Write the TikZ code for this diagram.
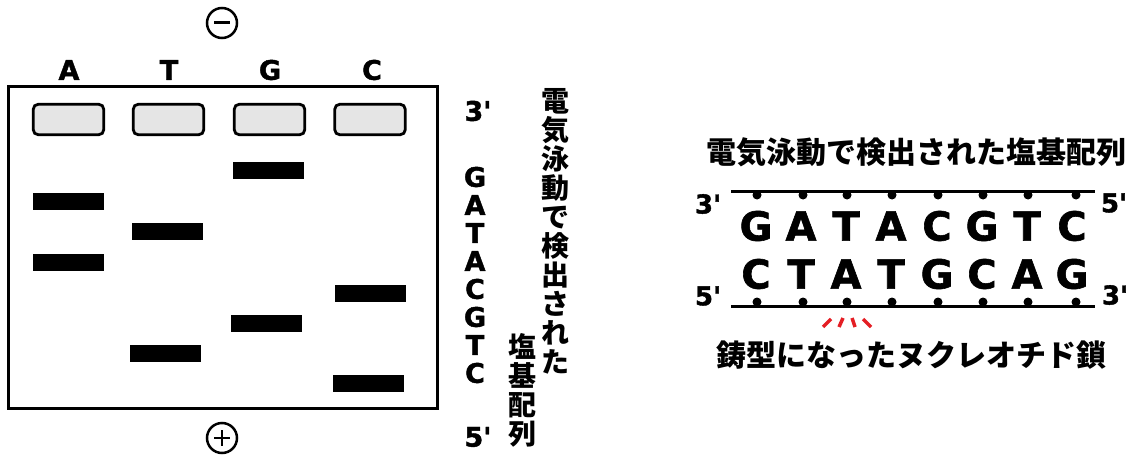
\documentclass[tikz,border=0pt]{standalone}
\usepackage{fontspec}
\usetikzlibrary{calc}
\setmainfont{DejaVu Sans}
\newfontfamily\lat{DejaVu Sans Bold}[FakeBold=1.5]
\newfontfamily\jp{Noto Sans CJK JP}
\definecolor{mred}{RGB}{228,30,36}
\begin{document}
\begin{tikzpicture}[x=1pt,y=-1pt,
  lab/.style={font=\lat\fontsize{27}{27}\selectfont, inner sep=0pt},
  slab/.style={font=\lat\fontsize{26}{26}\selectfont, inner sep=0pt},
  big/.style={font=\lat\fontsize{40}{40}\selectfont, inner sep=0pt},
  jpt/.style={font=\jp\bfseries\fontsize{30}{30}\selectfont, inner sep=0pt},
  jpv/.style={font=\jp\bfseries\fontsize{28}{29}\selectfont, inner sep=0pt, align=center},
  band/.style={fill=black, minimum width=71pt, minimum height=17pt, inner sep=0pt},
  well/.style={draw=black, line width=2.8pt, rounded corners=5pt, fill=black!10, minimum width=70.5pt, minimum height=30.5pt, inner sep=0pt},
  pole/.style={draw=black, line width=2.5pt, circle, minimum size=30pt, inner sep=0pt},
  strand/.style={line width=3pt},
  dot/.style={fill=black, circle, minimum size=9pt, inner sep=0pt},
  redmark/.style={draw=mred, line width=3.5pt}
]
\useasboundingbox (0,0) rectangle (1139,457);

% gel
\draw[line width=3pt] (8,87) rectangle (437,408);

% wells
\node[well] (wA) at (68.5,119.5) {};
\node[well] (wT) at (168.5,119.5) {};
\node[well] (wG) at (269.5,119.5) {};
\node[well] (wC) at (370,119.5) {};

% lane labels
\node[lab] (lA) at (69,70) {A};
\node[lab] (lT) at (169,70) {T};
\node[lab] (lG) at (270,70) {G};
\node[lab] (lC) at (372,70) {C};

% poles
\node[pole] (minus) at (222,23) {};
\draw[line width=3pt] ($(minus)+(-8,0)$) -- ($(minus)+(8,0)$);
\node[pole] (plus) at (222,438) {};
\draw[line width=2.5pt] ($(plus)+(-8,0)$) -- ($(plus)+(8,0)$);
\draw[line width=2.5pt] ($(plus)+(0,-8)$) -- ($(plus)+(0,8)$);

% bands
\node[band] (bA1) at (68.5,201.5) {};
\node[band] (bA2) at (68.5,262.5) {};
\node[band] (bT1) at (167,231.5) {};
\node[band] (bT2) at (165,353) {};
\node[band] (bG1) at (268,170.5) {};
\node[band] (bG2) at (266,323.5) {};
\node[band] (bC1) at (370,293) {};
\node[band] (bC2) at (368,383.5) {};

% read column
\node[lab] (c3) at (478,111) {3'};
\node[lab] (s1) at (475,177) {G};
\node[lab] (s2) at (475,205) {A};
\node[lab] (s3) at (475,233) {T};
\node[lab] (s4) at (475,261) {A};
\node[lab] (s5) at (475,289) {C};
\node[lab] (s6) at (475,317) {G};
\node[lab] (s7) at (475,345) {T};
\node[lab] (s8) at (475,373) {C};
\node[lab] (c5) at (478,437) {5'};

% vertical Japanese text
\node[jpv] (v1) at (555,231) {電\\気\\泳\\動\\で\\検\\出\\さ\\れ\\た};
\node[jpv] (v2) at (522,390) {塩\\基\\配\\列};

% right diagram
\node[jpt] (title) at (916,152) {電気泳動で検出された塩基配列};
\node[jpt] (caption) at (911,355) {鋳型になったヌクレオチド鎖};

\coordinate (t1) at (731,191);
\coordinate (t2) at (1095,191);
\coordinate (u1) at (731,306);
\coordinate (u2) at (1095,306);
\draw[strand] (t1) -- (t2);
\draw[strand] (u1) -- (u2);

\foreach \x [count=\i] in {757,803,847,892,938,983,1028,1076} {
  \node[dot] (td\i) at (\x,195) {};
  \node[dot] (bd\i) at (\x,302) {};
}

\foreach \x/\l [count=\i] in {756/G,801/A,846/T,891/A,937/C,982/G,1027/T,1072/C} {
  \node[big] (tl\i) at (\x,226) {\l};
}
\foreach \x/\l [count=\i] in {756/C,801/T,846/A,891/T,937/G,982/C,1027/A,1072/G} {
  \node[big] (bl\i) at (\x,274) {\l};
}

\node[slab] (r3a) at (708,204) {3'};
\node[slab] (r5a) at (1114,203) {5'};
\node[slab] (r5b) at (708,296) {5'};
\node[slab] (r3b) at (1115,295) {3'};

% red marks
\coordinate (m1a) at (823,327); \coordinate (m1b) at (831,319);
\coordinate (m2a) at (839,327); \coordinate (m2b) at (843,318);
\coordinate (m3a) at (855,327); \coordinate (m3b) at (852,318);
\coordinate (m4a) at (871,327); \coordinate (m4b) at (863,319);
\draw[redmark] (m1a) -- (m1b);
\draw[redmark] (m2a) -- (m2b);
\draw[redmark] (m3a) -- (m3b);
\draw[redmark] (m4a) -- (m4b);
\end{tikzpicture}
\end{document}
